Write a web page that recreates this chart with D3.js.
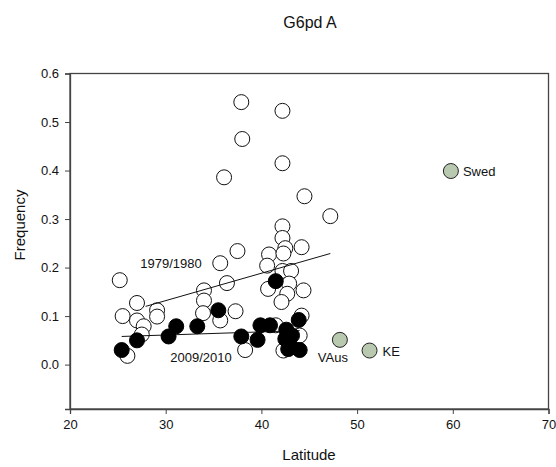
<!DOCTYPE html>
<html><head><meta charset="utf-8">
<script src="https://cdn.jsdelivr.net/npm/d3@7"></script>
<style>body{margin:0;background:#fff;} text{font-family:"Liberation Sans",Arial,sans-serif;}</style>
</head><body>
<svg id="c" width="556" height="467"></svg>
<script>
const xTicks = [20, 30, 40, 50, 60, 70];
const yTicks = [0.0, 0.1, 0.2, 0.3, 0.4, 0.5, 0.6];

const lat7980 = [25.2,25.5,26.0,27.0,27.0,27.7,27.5,29.1,29.1,34.0,34.0,33.9,35.7,36.4,35.7,37.5,37.3,38.3,36.1,37.9,38.0,40.7,40.8,40.6,41.5,42.2,42.2,42.2,42.2,42.5,42.3,42.2,43.1,42.9,42.7,42.1,44.2,44.4,44.2,44.0,42.3,44.5,47.2];
const freq7980 = [0.174,0.100,0.018,0.127,0.091,0.079,0.062,0.112,0.099,0.153,0.132,0.106,0.091,0.168,0.209,0.234,0.110,0.030,0.386,0.541,0.465,0.156,0.227,0.204,0.081,0.523,0.415,0.285,0.261,0.240,0.229,0.193,0.193,0.167,0.146,0.129,0.242,0.153,0.101,0.060,0.029,0.347,0.306];

const lat0910 = [25.4,27.0,30.3,31.1,33.3,35.5,37.9,39.6,39.9,40.9,41.5,42.6,43.9,43.2,42.5,42.9,44.0,42.8];
const freq0910 = [0.030,0.050,0.058,0.079,0.079,0.112,0.058,0.051,0.081,0.081,0.172,0.072,0.092,0.060,0.053,0.043,0.030,0.032];

const otherNames = ["VAus","KE","Swed"];
const otherLat = [48.2,51.3,59.8];
const otherFreq = [0.051,0.029,0.399];

const fitLat7980 = [27.9,47.2];
const fitFreq7980 = [0.120,0.229];
const fitLat0910 = [25.4,44.0];
const fitFreq0910 = [0.058,0.070];

const svg = d3.select("#c");
const L = 70, R = 548.5, T = 73.5, B = 409;
const x = d3.scaleLinear().domain([20,70]).range([L,R]);
const y = d3.scaleLinear().domain([-0.0915,0.6]).range([B,T]);
const axisCol = "#444";

svg.append("rect").attr("x",L).attr("y",T).attr("width",R-L).attr("height",B-T)
  .attr("fill","none").attr("stroke",axisCol).attr("stroke-width",1.3);

const xa = svg.append("g").attr("transform",`translate(0,${B})`)
  .call(d3.axisBottom(x).tickValues(xTicks).tickSize(5).tickPadding(6).tickFormat(d3.format("d")));
const ya = svg.append("g").attr("transform",`translate(${L},0)`)
  .call(d3.axisLeft(y).tickValues(yTicks).tickSize(5).tickPadding(6).tickFormat(d3.format(".1f")));
[xa,ya].forEach(a=>{
  a.select(".domain").attr("stroke",axisCol).attr("stroke-width",1.3);
  a.selectAll(".tick line").attr("stroke",axisCol);
  a.selectAll(".tick text").attr("font-size",13).attr("fill","#111").style("font-family","Liberation Sans, Arial, sans-serif");
});

const R0 = 7.5;
const d7980 = lat7980.map((v,i)=>({lat:v,f:freq7980[i]}));
const d0910 = lat0910.map((v,i)=>({lat:v,f:freq0910[i]}));
const dOther = otherLat.map((v,i)=>({lat:v,f:otherFreq[i],n:otherNames[i]}));

svg.append("g").selectAll("circle").data(d7980).join("circle")
  .attr("cx",d=>x(d.lat)).attr("cy",d=>y(d.f)).attr("r",R0)
  .attr("fill","#fff").attr("stroke","#111").attr("stroke-width",1);

const line = d3.line().x(d=>x(d[0])).y(d=>y(d[1]));
svg.append("path").datum(fitLat7980.map((v,i)=>[v,fitFreq7980[i]])).attr("d",line)
  .attr("stroke","#111").attr("fill","none").attr("stroke-width",1);
svg.append("path").datum(fitLat0910.map((v,i)=>[v,fitFreq0910[i]])).attr("d",line)
  .attr("stroke","#111").attr("fill","none").attr("stroke-width",1);

svg.append("g").selectAll("circle").data(d0910).join("circle")
  .attr("cx",d=>x(d.lat)).attr("cy",d=>y(d.f)).attr("r",R0)
  .attr("fill","#000").attr("stroke","#000").attr("stroke-width",1);

svg.append("g").selectAll("circle").data(dOther).join("circle")
  .attr("cx",d=>x(d.lat)).attr("cy",d=>y(d.f)).attr("r",R0)
  .attr("fill","#b9c9b0").attr("stroke","#222").attr("stroke-width",1);

const lblOff = {VAus:[-7,22,"middle"], KE:[13,5,"start"], Swed:[12,5,"start"]};
svg.append("g").selectAll("text").data(dOther).join("text")
  .attr("x",d=>x(d.lat)+lblOff[d.n][0]).attr("y",d=>y(d.f)+lblOff[d.n][1])
  .attr("text-anchor",d=>lblOff[d.n][2]).attr("font-size",13).attr("fill","#111").text(d=>d.n);

svg.append("text").attr("x",171).attr("y",268).attr("text-anchor","middle").attr("font-size",13).attr("fill","#111").text("1979/1980");
svg.append("text").attr("x",201).attr("y",362).attr("text-anchor","middle").attr("font-size",13).attr("fill","#111").text("2009/2010");

svg.append("text").attr("x",310).attr("y",28).attr("text-anchor","middle").attr("font-size",16).attr("fill","#111").text("G6pd A");
svg.append("text").attr("x",309).attr("y",460).attr("text-anchor","middle").attr("font-size",15).attr("fill","#111").text("Latitude");
svg.append("text").attr("transform","translate(25,225) rotate(-90)").attr("text-anchor","middle").attr("font-size",15).attr("fill","#111").text("Frequency");
</script>
</body></html>
